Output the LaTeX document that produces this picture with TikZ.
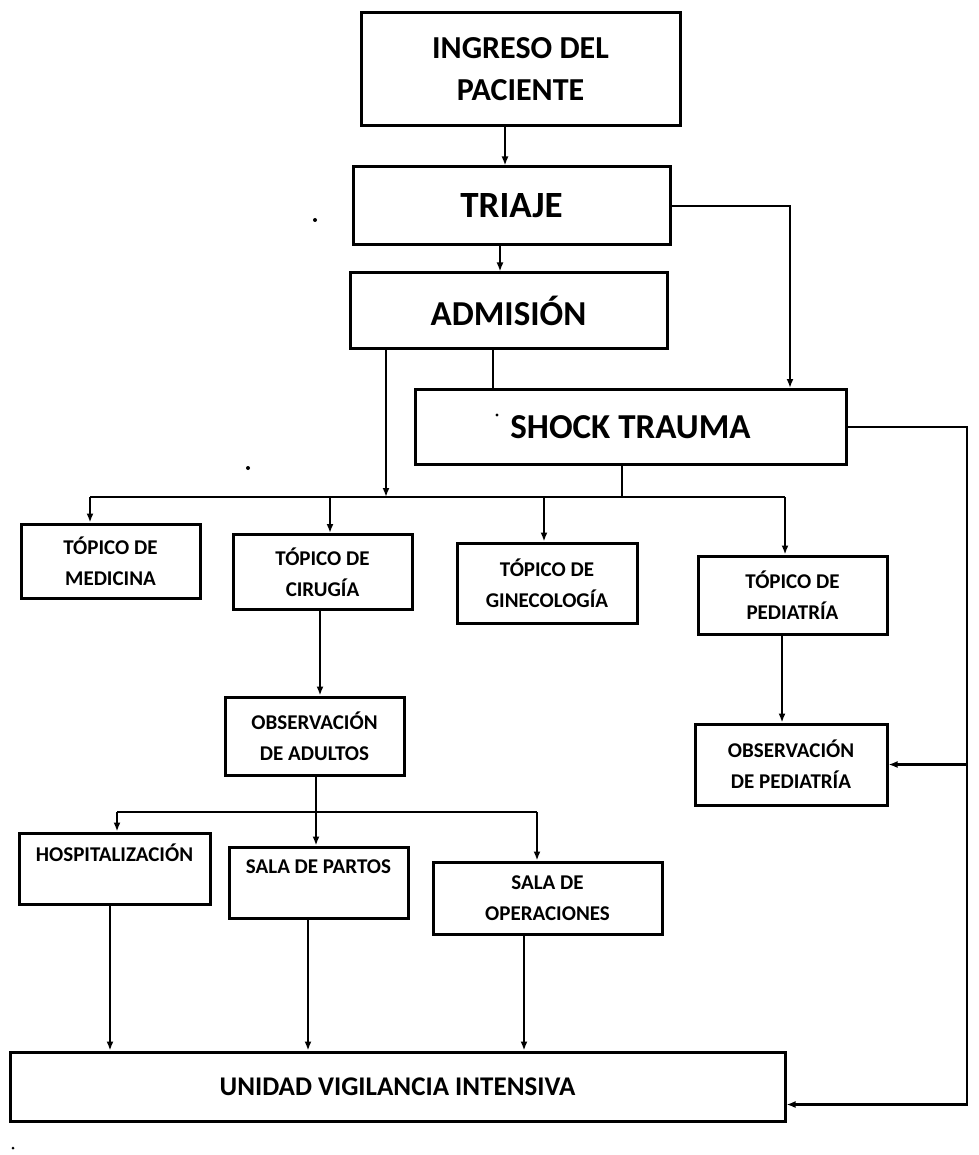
\documentclass[tikz,border=0pt]{standalone}
\usepackage{fontspec}
\setmainfont{Carlito}
\usetikzlibrary{arrows.meta,calc}
\tikzset{
  box/.style={draw, line width=3pt, inner sep=0pt, align=center, fill=white},
  conn/.style={line width=2.2pt, line join=miter},
  arr/.style={conn, -{Latex[length=9pt,width=7pt]}},
  fsmall/.style={font=\fontsize{21}{31}\selectfont\bfseries},
}
\begin{document}
\begin{tikzpicture}[x=1pt,y=-1pt]
\useasboundingbox (0,0) rectangle (978,1155);
% boxes
\node[box, minimum width=319pt, minimum height=113pt, font=\fontsize{32}{42}\selectfont\bfseries] (ing) at (520.5,69.5) {INGRESO DEL\\PACIENTE};
\node[box, minimum width=317pt, minimum height=78pt, font=\fontsize{37}{44}\selectfont\bfseries] (tri) at (511.5,206) {TRIAJE};
\node[box, minimum width=317pt, minimum height=75pt, font=\fontsize{35}{42}\selectfont\bfseries] (adm) at (508.5,310.5) {ADMISIÓN};
\node[box, minimum width=431pt, minimum height=75pt, font=\fontsize{35}{42}\selectfont\bfseries] (shock) at (630.5,427) {SHOCK TRAUMA};
\node[box, fsmall, minimum width=179pt, minimum height=74pt] (med) at (110.5,561) {TÓPICO DE\\MEDICINA};
\node[box, fsmall, minimum width=179pt, minimum height=75pt] (cir) at (322.5,572) {TÓPICO DE\\CIRUGÍA};
\node[box, fsmall, minimum width=180pt, minimum height=80pt] (gin) at (547,583) {TÓPICO DE\\GINECOLOGÍA};
\node[box, fsmall, minimum width=189pt, minimum height=78pt] (ped) at (792.5,595) {TÓPICO DE\\PEDIATRÍA};
\node[box, fsmall, minimum width=179pt, minimum height=78pt] (obsA) at (314.5,736) {OBSERVACIÓN\\DE ADULTOS};
\node[box, fsmall, minimum width=192pt, minimum height=81pt] (obsP) at (791,764.5) {OBSERVACIÓN\\DE PEDIATRÍA};
\node[box, fsmall, minimum width=191pt, minimum height=71pt] (hosp) at (114.5,868.5) {HOSPITALIZACIÓN\\~};
\node[box, fsmall, minimum width=179pt, minimum height=71pt] (partos) at (318.5,882.5) {SALA DE PARTOS\\~};
\node[box, fsmall, minimum width=229pt, minimum height=72pt] (oper) at (547.5,898) {SALA DE\\OPERACIONES};
\node[box, minimum width=775pt, minimum height=69pt, font=\fontsize{27}{34}\selectfont\bfseries] (uvi) at (397.5,1086.5) {UNIDAD VIGILANCIA INTENSIVA};
% helper coordinates (x positions and bus levels)
\coordinate (xit) at (505,0);
\coordinate (xta) at (500,0);
\coordinate (xts) at (790,0);
\coordinate (xas) at (493,0);
\coordinate (xab) at (386,0);
\coordinate (xsb) at (622,0);
\coordinate (xme) at (90,0);
\coordinate (xci) at (330,0);
\coordinate (xgi) at (544,0);
\coordinate (xpe) at (785,0);
\coordinate (xco) at (320,0);
\coordinate (xpo) at (782,0);
\coordinate (xrt) at (967,0);
\coordinate (xho) at (117,0);
\coordinate (xpa) at (316,0);
\coordinate (xop) at (537,0);
\coordinate (xhu) at (110,0);
\coordinate (xpu) at (308,0);
\coordinate (xou) at (524,0);
\coordinate (bus1) at (0,497);
\coordinate (bus2) at (0,812);
\coordinate (ue) at ($(uvi.south east)+(0,-18)$);
% connectors
\draw[arr] (xit |- ing.south) -- (xit |- tri.north);
\draw[arr] (xta |- tri.south) -- (xta |- adm.north);
\draw[arr] (tri.east) -| (xts |- shock.north);
\draw[conn] (xas |- adm.south) -- (xas |- shock.north);
\draw[arr] (xab |- adm.south) -- (xab |- bus1);
\draw[conn] (xsb |- shock.south) -- (xsb |- bus1);
\draw[conn] (xme |- bus1) -- (xpe |- bus1);
\draw[arr] (xme |- bus1) -- (xme |- med.north);
\draw[arr] (xci |- bus1) -- (xci |- cir.north);
\draw[arr] (xgi |- bus1) -- (xgi |- gin.north);
\draw[arr] (xpe |- bus1) -- (xpe |- ped.north);
\draw[arr] (xco |- cir.south) -- (xco |- obsA.north);
\draw[arr] (xpo |- ped.south) -- (xpo |- obsP.north);
\draw[arr] (shock.east) -| (xrt |- ue) -- (ue);
\draw[arr] (xrt |- obsP.east) -- (obsP.east);
\draw[arr] (xpa |- obsA.south) -- (xpa |- partos.north);
\draw[conn] (xho |- bus2) -- (xop |- bus2);
\draw[arr] (xho |- bus2) -- (xho |- hosp.north);
\draw[arr] (xop |- bus2) -- (xop |- oper.north);
\draw[arr] (xhu |- hosp.south) -- (xhu |- uvi.north);
\draw[arr] (xpu |- partos.south) -- (xpu |- uvi.north);
\draw[arr] (xou |- oper.south) -- (xou |- uvi.north);
% stray specks of the scan
\fill (315,220) circle (2);
\fill (248,468) circle (2);
\fill (497,415) circle (1.6);
\fill (13,1148) circle (1.5);
\end{tikzpicture}
\end{document}
